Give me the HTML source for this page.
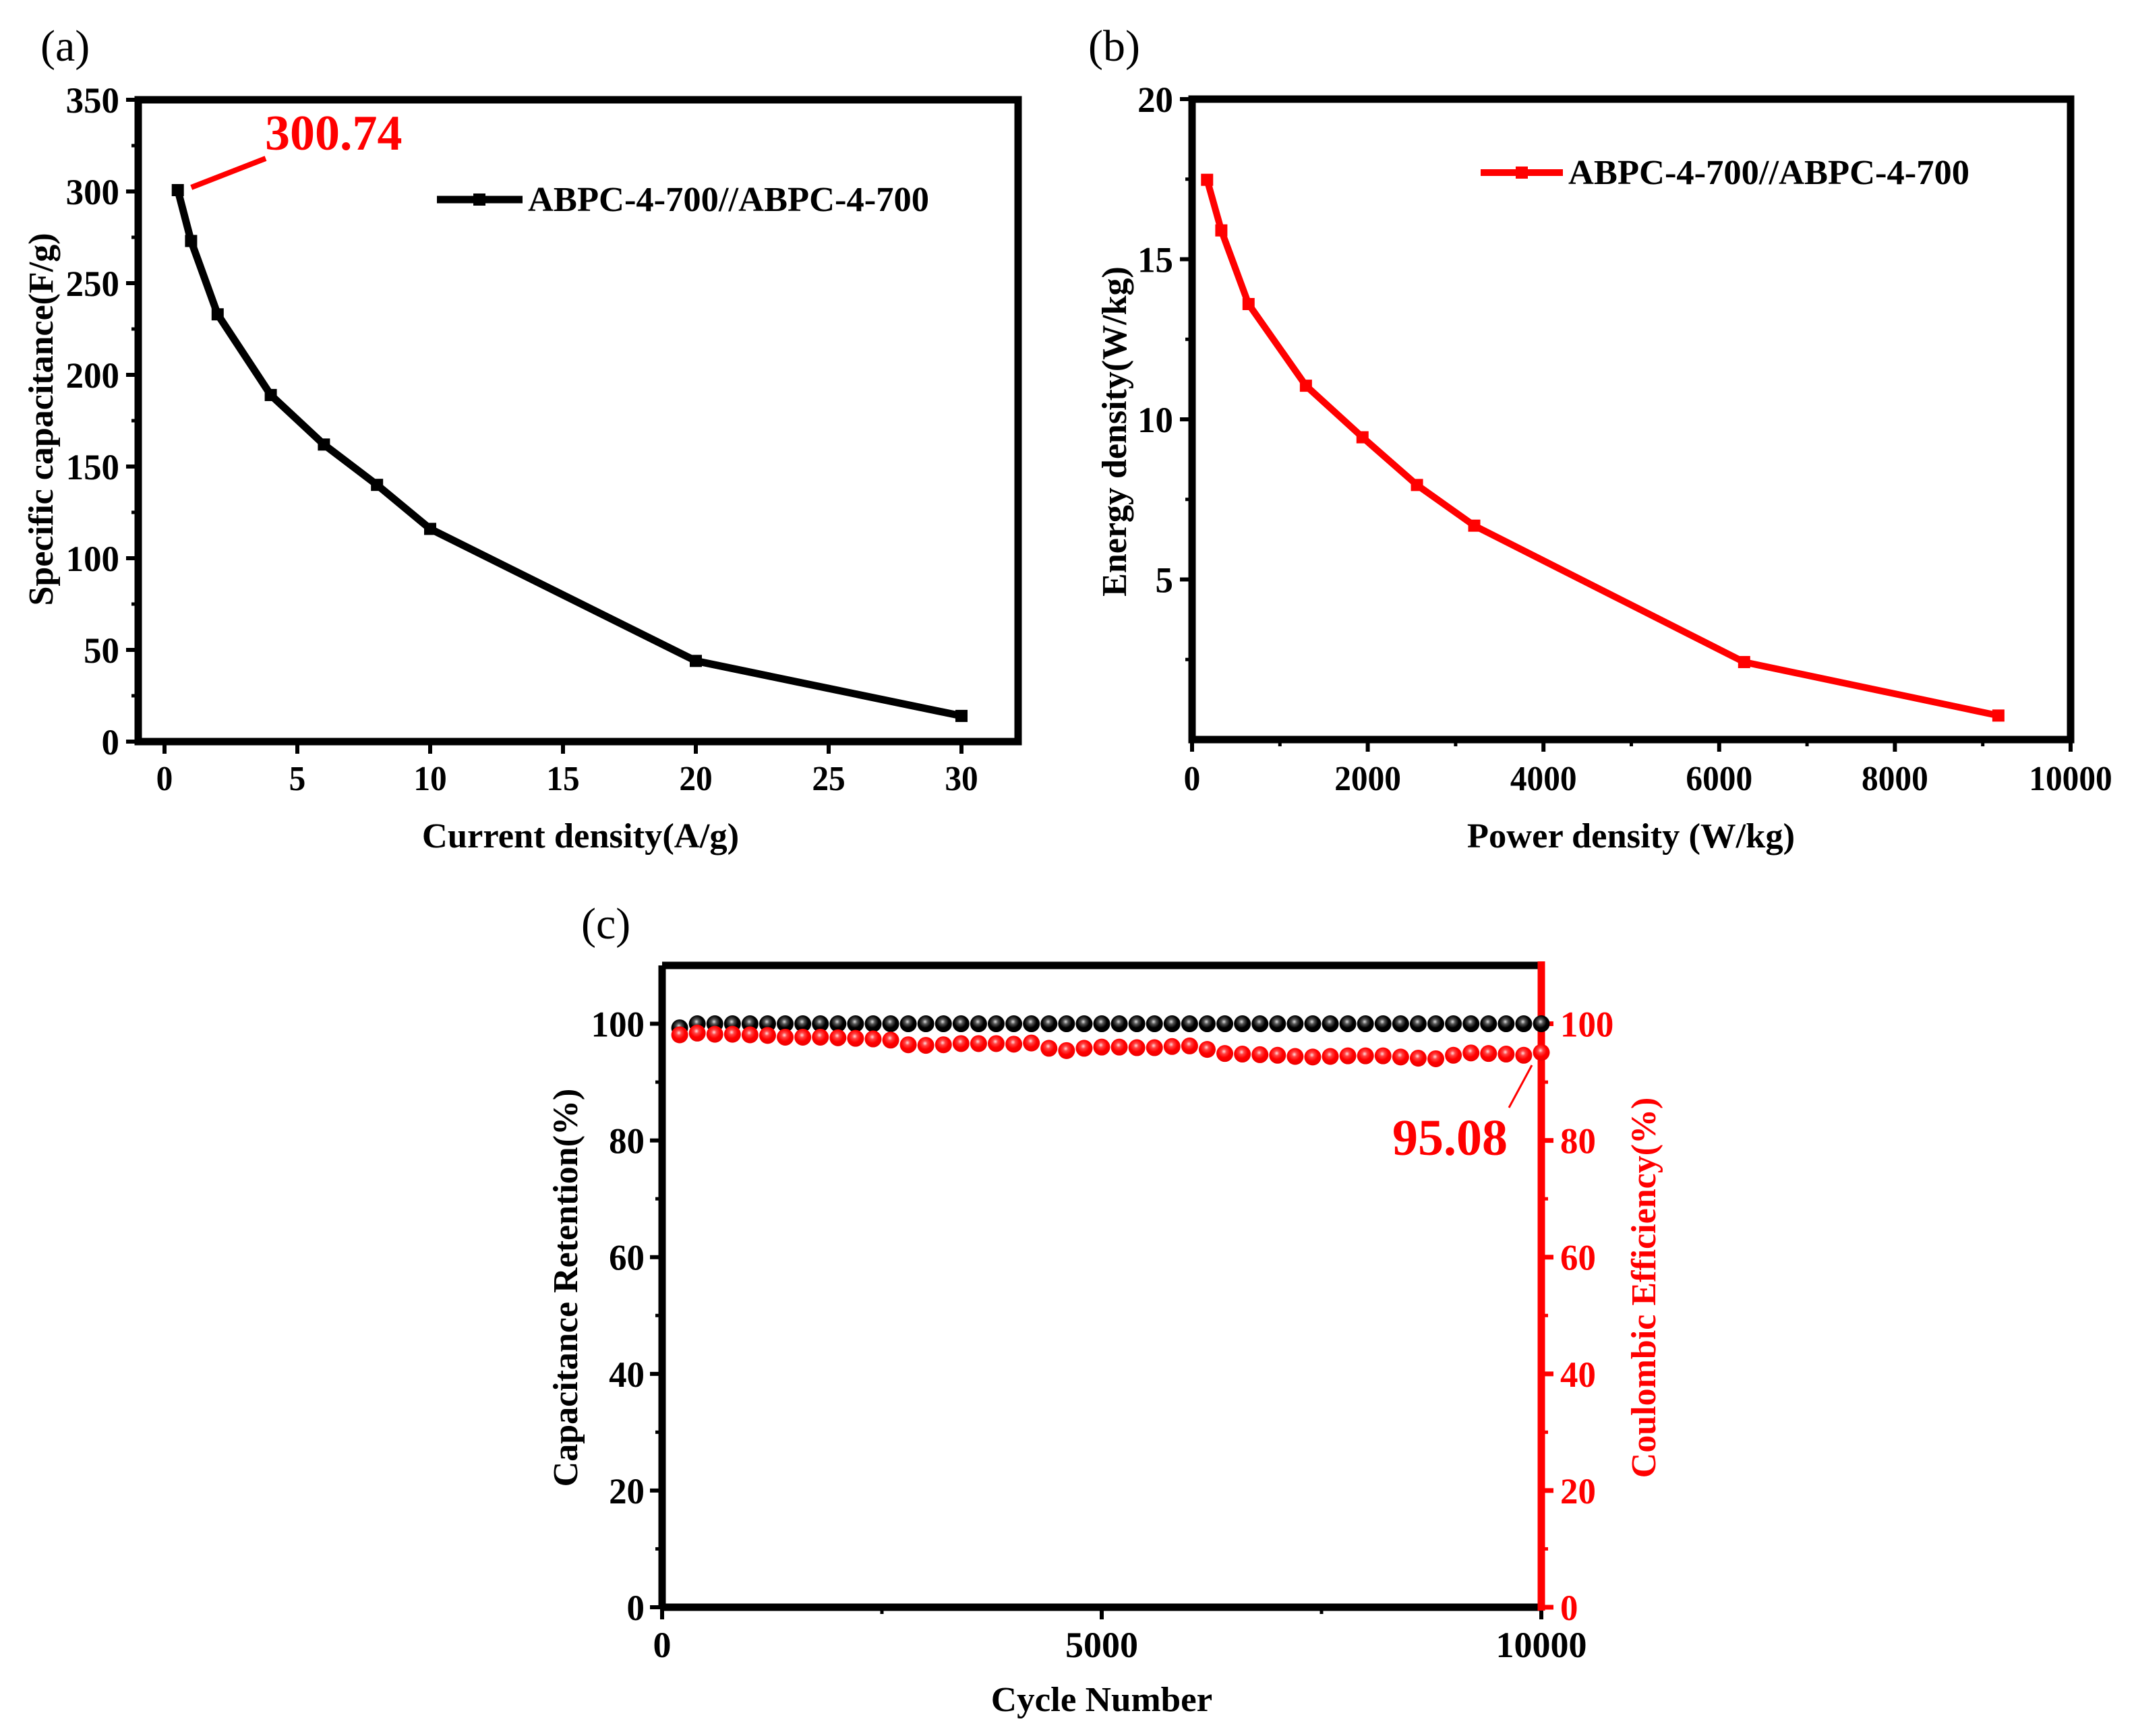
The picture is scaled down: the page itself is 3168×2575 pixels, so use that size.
<!DOCTYPE html>
<html><head><meta charset="utf-8"><style>
html,body{margin:0;padding:0;background:#fff}
svg{display:block}
text{font-family:"Liberation Serif",serif}
</style></head><body>
<svg id="fig" width="3168" height="2575" viewBox="0 0 3168 2575" xmlns="http://www.w3.org/2000/svg">
<defs>
<radialGradient id="gblk" cx="0.45" cy="0.38" r="0.6"><stop offset="0" stop-color="#ddd"/><stop offset="0.25" stop-color="#555"/><stop offset="0.6" stop-color="#000"/><stop offset="1" stop-color="#000"/></radialGradient>
<radialGradient id="gred" cx="0.45" cy="0.38" r="0.6"><stop offset="0" stop-color="#fdd"/><stop offset="0.25" stop-color="#f44"/><stop offset="0.6" stop-color="#f00"/><stop offset="1" stop-color="#e00"/></radialGradient>
</defs>
<g id="root"></g>
</svg>
<script>
// Panel (a)
const aX = [0.5, 1, 2, 4, 6, 8, 10, 20, 30];
const aY = [300.74, 273, 233, 189, 162, 140, 116, 44, 14];
const aXTicks = [0, 5, 10, 15, 20, 25, 30];
const aYTicks = [0, 50, 100, 150, 200, 250, 300, 350];
// Panel (b)
const bX = [171, 333, 643, 1296, 1940, 2560, 3212, 6284, 9178];
const bY = [17.48, 15.9, 13.6, 11.05, 9.44, 7.95, 6.68, 2.42, 0.75];
const bXTicks = [0, 2000, 4000, 6000, 8000, 10000];
const bYTicks = [5, 10, 15, 20];
// Panel (c)
const cCycles = [200,400,600,800,1000,1200,1400,1600,1800,2000,2200,2400,2600,2800,3000,3200,3400,3600,3800,4000,4200,4400,4600,4800,5000,5200,5400,5600,5800,6000,6200,6400,6600,6800,7000,7200,7400,7600,7800,8000,8200,8400,8600,8800,9000,9200,9400,9600,9800,10000];
const cRetention = [99.3,100,100,100,100,100,100,100,100,100,100,100,100,100,100,100,100,100,100,100,100,100,100,100,100,100,100,100,100,100,100,100,100,100,100,100,100,100,100,100,100,100,100,100,100,100,100,100,100,100];
const cEfficiency = [98.1,98.4,98.2,98.2,98.1,98.0,97.7,97.7,97.7,97.6,97.5,97.4,97.2,96.4,96.3,96.4,96.6,96.6,96.6,96.5,96.7,95.8,95.4,95.8,96.0,96.0,95.9,95.9,96.1,96.2,95.6,94.9,94.8,94.7,94.6,94.4,94.3,94.4,94.5,94.5,94.5,94.3,94.1,94.0,94.6,95.0,94.9,94.8,94.6,95.08];
const cXTicks = [0, 5000, 10000];
const cYTicks = [0, 20, 40, 60, 80, 100];

const NS = "http://www.w3.org/2000/svg";
const root = document.getElementById('root');
function mk(tag, attrs, parent) {
  const e = document.createElementNS(NS, tag);
  for (const k in attrs) e.setAttribute(k, attrs[k]);
  (parent || root).appendChild(e);
  return e;
}
function txt(x, y, s, size, anchor, color, rot, sx, parent) {
  const g = mk('g', {transform: `translate(${x},${y}) rotate(${rot||0}) scale(${sx||1},1)`}, parent);
  const t = mk('text', {x:0, y:0, 'font-size':size, 'font-weight':'bold', 'text-anchor':anchor||'middle', fill:color||'#000'}, g);
  t.textContent = s;
  return t;
}
function lin(d0, d1, p0, p1) { return v => p0 + (v - d0) * (p1 - p0) / (d1 - d0); }

/* ---------- Panel A ---------- */
const A = {l:205, r:1510, t:148, b:1100};
const ax = lin(0, 30, 244, 1426), ay = lin(0, 350, A.b, A.t);
const gA = mk('g', {});


let t;
t = txt(60, 90, '(a)', 66, 'start', '#000', 0, 1, gA); t.setAttribute('font-weight','normal');
 
aXTicks.forEach(v => {
  const l = mk('line', {x1:ax(v), x2:ax(v), y1:A.b, y2:A.b+18, stroke:'#000', 'stroke-width':6}, gA);
   
  const tt = txt(ax(v), 1172, String(v), 52, 'middle', '#000', 0, 0.95, gA);
   
});
aYTicks.forEach(v => {
  const l = mk('line', {x1:A.l-18, x2:A.l, y1:ay(v), y2:ay(v), stroke:'#000', 'stroke-width':6}, gA);
   
  const tt = txt(A.l-28, ay(v)+19, String(v), 54, 'end', '#000', 0, 0.98, gA);
   
});
for (let v = 25; v < 350; v += 50) { const l = mk('line', {x1:A.l-10, x2:A.l, y1:ay(v), y2:ay(v), stroke:'#000', 'stroke-width':5}, gA);   }
const frA = mk('rect', {x:A.l, y:A.t, width:A.r-A.l, height:A.b-A.t, fill:'none', stroke:'#000', 'stroke-width':11}, gA);
 
const plA = mk('polyline', {points: aX.map((x,i)=>ax(x)+','+ay(aY[i])).join(' '), fill:'none', stroke:'#000', 'stroke-width':11, 'stroke-linejoin':'round'}, gA);
 
aX.forEach((x,i) => {
  const m = mk('rect', {x:ax(x)-9, y:ay(aY[i])-9, width:18, height:18, fill:'#000'}, gA);
   
});
const anA = mk('line', {x1:ax(aX[0])+20, y1:ay(aY[0])-4, x2:394, y2:235, stroke:'#f00', 'stroke-width':8}, gA);
 
t = txt(393, 222, '300.74', 74, 'start', '#f00', 0, 1, gA);
 
const lgA = mk('line', {x1:648, x2:775, y1:296, y2:296, stroke:'#000', 'stroke-width':11}, gA);
 
const lmA = mk('rect', {x:702, y:287, width:18, height:18, fill:'#000'}, gA);
 
t = txt(783, 313, 'ABPC-4-700//ABPC-4-700', 52, 'start', '#000', 0, 1.01, gA);
 
t = txt(861, 1257, 'Current density(A/g)', 52, 'middle', '#000', 0, 1.01, gA);
 
t = txt(78, 622, 'Specific capacitance(F/g)', 52, 'middle', '#000', -90, 1.0, gA);
 

/* ---------- Panel B ---------- */
const B = {l:1768, r:3071, t:147, b:1097};
const bx = lin(0, 10000, B.l, B.r), by = lin(0, 20, B.b, B.t);
const gB = mk('g', {});


t = txt(1614, 90, '(b)', 66, 'start', '#000', 0, 1, gB); t.setAttribute('font-weight','normal');
 
bXTicks.forEach(v => {
  const l = mk('line', {x1:bx(v), x2:bx(v), y1:B.b, y2:B.b+18, stroke:'#000', 'stroke-width':6}, gB);
   
  const tt = txt(bx(v), 1172, String(v), 52, 'middle', '#000', 0, 0.95, gB);
   
});
for (let v = 1000; v < 10000; v += 2000) { const l = mk('line', {x1:bx(v), x2:bx(v), y1:B.b, y2:B.b+10, stroke:'#000', 'stroke-width':5}, gB);   }
bYTicks.forEach(v => {
  const l = mk('line', {x1:B.l-18, x2:B.l, y1:by(v), y2:by(v), stroke:'#000', 'stroke-width':6}, gB);
   
  const tt = txt(B.l-28, by(v)+19, String(v), 54, 'end', '#000', 0, 0.98, gB);
   
});
for (let v = 2.5; v < 20; v += 5) { const l = mk('line', {x1:B.l-10, x2:B.l, y1:by(v), y2:by(v), stroke:'#000', 'stroke-width':5}, gB);   }
const frB = mk('rect', {x:B.l, y:B.t, width:B.r-B.l, height:B.b-B.t, fill:'none', stroke:'#000', 'stroke-width':11}, gB);
 
const plB = mk('polyline', {points: bX.map((x,i)=>bx(x)+','+by(bY[i])).join(' '), fill:'none', stroke:'#f00', 'stroke-width':10, 'stroke-linejoin':'round'}, gB);
 
bX.forEach((x,i) => {
  const m = mk('rect', {x:bx(x)-9, y:by(bY[i])-9, width:18, height:18, fill:'#f00'}, gB);
   
});
const lgB = mk('line', {x1:2196, x2:2318, y1:256, y2:256, stroke:'#f00', 'stroke-width':10}, gB);
 
const lmB = mk('rect', {x:2248, y:247, width:18, height:18, fill:'#f00'}, gB);
 
t = txt(2326, 273, 'ABPC-4-700//ABPC-4-700', 52, 'start', '#000', 0, 1.01, gB);
 
t = txt(2419, 1257, 'Power density (W/kg)', 52, 'middle', '#000', 0, 1.01, gB);
 
t = txt(1670, 640, 'Energy density(W/kg)', 52, 'middle', '#000', -90, 1.0, gB);
 

/* ---------- Panel C ---------- */
const C = {l:982, r:2286, t:1432, b:2384};
const cx = lin(0, 10000, C.l, C.r), cy = lin(0, 110, C.b, C.t);
const gC = mk('g', {});


t = txt(862, 1392, '(c)', 66, 'start', '#000', 0, 1, gC); t.setAttribute('font-weight','normal');
 
cXTicks.forEach(v => {
  const l = mk('line', {x1:cx(v), x2:cx(v), y1:C.b, y2:C.b+18, stroke:'#000', 'stroke-width':6}, gC);
   
  const tt = txt(cx(v), 2458, String(v), 54, 'middle', '#000', 0, 1.0, gC);
   
});
for (let v = 2500; v < 10000; v += 5000) { const l = mk('line', {x1:cx(v), x2:cx(v), y1:C.b, y2:C.b+10, stroke:'#000', 'stroke-width':5}, gC);   }
cYTicks.forEach(v => {
  const l = mk('line', {x1:C.l-18, x2:C.l, y1:cy(v), y2:cy(v), stroke:'#000', 'stroke-width':6}, gC);
   
  const tt = txt(C.l-26, cy(v)+19, String(v), 54, 'end', '#000', 0, 0.98, gC);
   
  const r = mk('line', {x1:C.r, x2:C.r+18, y1:cy(v), y2:cy(v), stroke:'#f00', 'stroke-width':7}, gC);
   
  const rt = txt(C.r+28, cy(v)+19, String(v), 54, 'start', '#f00', 0, 0.98, gC);
   
});
for (let v = 10; v < 110; v += 20) {
  const l = mk('line', {x1:C.l-10, x2:C.l, y1:cy(v), y2:cy(v), stroke:'#000', 'stroke-width':5}, gC);  
  const r = mk('line', {x1:C.r, x2:C.r+10, y1:cy(v), y2:cy(v), stroke:'#f00', 'stroke-width':5}, gC);  
}
const fc = [['M',C.l,C.t,'L',C.r,C.t],['M',C.l,C.t,'L',C.l,C.b],['M',C.l,C.b,'L',C.r,C.b]];
fc.forEach((p,i) => { const e = mk('path', {d:p.join(' '), stroke:'#000', 'stroke-width':11, fill:'none'}, gC);   });
const rAx = mk('line', {x1:C.r, x2:C.r, y1:C.t-6, y2:C.b+5, stroke:'#f00', 'stroke-width':11}, gC);
 
cCycles.forEach((x,i) => {
  const d = mk('circle', {cx:cx(x), cy:cy(cRetention[i]), r:12.5, fill:'url(#gblk)'}, gC);
   
});
cCycles.forEach((x,i) => {
  const d = mk('circle', {cx:cx(x), cy:cy(cEfficiency[i]), r:12.5, fill:'url(#gred)'}, gC);
   
});
const anC = mk('line', {x1:2272, y1:1580, x2:2238, y2:1643, stroke:'#f00', 'stroke-width':3}, gC);
 
t = txt(2065, 1713, '95.08', 76, 'start', '#f00', 0, 1, gC);
 
t = txt(1634, 2538, 'Cycle Number', 52, 'middle', '#000', 0, 1.02, gC);
 
t = txt(856, 1910, 'Capacitance Retention(%)', 52, 'middle', '#000', -90, 1.0, gC);
 
t = txt(2455, 1910, 'Coulombic Efficiency(%)', 52, 'middle', '#f00', -90, 1.0, gC);
 
</script>
</body></html>
